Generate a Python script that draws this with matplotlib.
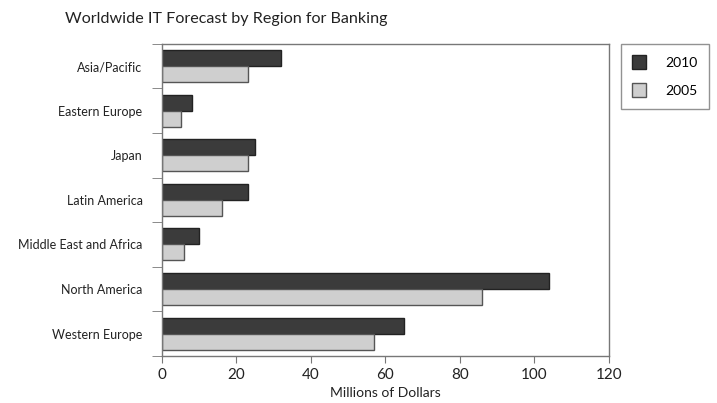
import numpy as np
import matplotlib.pyplot as plt
import matplotlib.ticker as tkr

# DATA

regions = ["Asia/Pacific", "Eastern Europe", "Japan", "Latin America",
           "Middle East and Africa", "North America", "Western Europe"]
values2010 = [32, 8, 25, 23, 10, 104, 65]
values2005 = [23, 5, 23, 16, 6, 86, 57]

# FIGURE

plt.rcParams["font.family"] = ["Lato", "DejaVu Sans"]

figure = plt.figure(figsize=(7.17, 4.03), dpi=100)
axis = figure.add_axes([0.226, 0.117, 0.623, 0.774])

pos = np.arange(len(regions))
h = 0.36

axis.barh(pos - h / 2, values2010, height=h, color="#3b3b3b",
          edgecolor="#222222", linewidth=1, label="2010")
axis.barh(pos + h / 2, values2005, height=h, color="#cfcfcf",
          edgecolor="#555555", linewidth=1, label="2005")

axis.set_title("Worldwide IT Forecast by Region for Banking",
               fontsize=11.6, color="#222222", x=-0.217, ha="left", pad=15)

axis.set_xlim(0, 120)
axis.set_ylim(len(regions) - 0.5, -0.5)
axis.xaxis.set_major_locator(tkr.MultipleLocator(20))
axis.set_xlabel("Millions of Dollars", fontsize=10, color="#222222", labelpad=4)

axis.set_yticks(pos)
axis.set_yticklabels(regions)
axis.set_yticks(np.arange(len(regions) + 1) - 0.5, minor=True)
axis.tick_params(axis="y", which="major", length=0, pad=14,
                 labelsize=9, labelcolor="#222222")
axis.tick_params(axis="y", which="minor", length=7, color="#777777")
axis.tick_params(axis="x", length=5, color="#777777",
                 labelsize=11, labelcolor="#222222")

for s in axis.spines.values():
    s.set_color("#777777")
    s.set_linewidth(1)

figure.legend(loc="upper left", bbox_to_anchor=(0.866, 0.891),
              frameon=True, fancybox=False, edgecolor="#777777",
              fontsize=10, handlelength=1.0, handleheight=1.2,
              borderpad=0.8, labelspacing=1.0, handletextpad=1.4,
              borderaxespad=0)

figure.savefig("out.png")
